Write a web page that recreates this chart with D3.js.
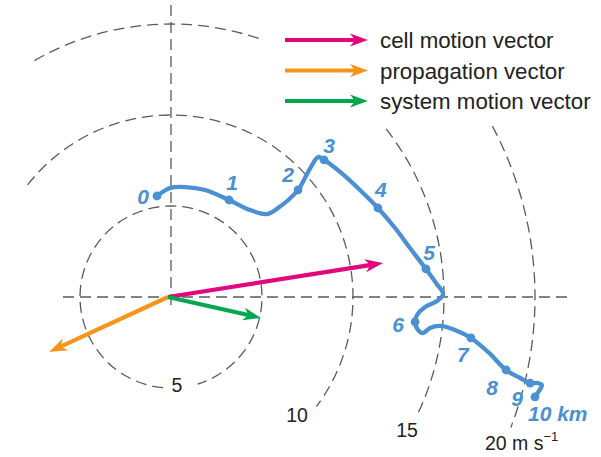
<!DOCTYPE html>
<html><head><meta charset="utf-8">
<script src="https://cdn.jsdelivr.net/npm/d3@7"></script>
<style>html,body{margin:0;padding:0;background:#fff}svg{display:block}</style>
</head><body>
<svg id="c" width="601" height="457"></svg>
<script>
// Hodograph (u, v in m/s)
const hodoU = [-0.77,-0.05,0.77,1.87,3.19,4.34,5.27,5.88,6.98,7.36,7.75,8.08,8.41,9.29,10.38,11.37,12.31,13.13,14.01,14.56,14.95,14.62,13.96,13.52,13.41,13.57,13.85,14.23,14.78,15.60,16.48,17.42,18.41,19.18,19.73,20.16,20.38,20.22,20.00];
const hodoV = [5.55,5.99,6.04,5.88,5.33,4.78,4.56,4.89,5.88,6.54,7.25,7.69,7.53,6.87,5.88,4.89,3.79,2.69,1.54,0.77,0.16,-0.22,-0.55,-0.99,-1.37,-1.81,-1.98,-1.70,-1.59,-1.81,-2.25,-3.02,-4.01,-4.45,-4.73,-4.73,-4.84,-5.16,-5.49];
// index in the hodograph of each height marker 0..10 km
const heightIdx = [0,4,8,12,15,18,24,30,32,34,38];
const heightLabels = ["0","1","2","3","4","5","6","7","8","9","10 km"];
// label offsets (px) from marker
const labelDx = [-14,3,-10,5,3,3,-17,-8,-14,-13,-7];
const labelDy = [8,-10,-8,-7,-11,-9,10,24,25,23,24];
// ring speeds and labels
const rings = [5,10,15,20];
const ringLabels = ["5","10","15","20 m s"];
// vectors (u, v m/s)
const vecNames = ["cell motion vector","propagation vector","system motion vector"];
const vecU = [11.65,-6.70,4.95];
const vecV = [1.87,-3.02,-1.15];
const vecColors = ["#e2067f","#f7941d","#00a650"];

const svg = d3.select("#c");
const ox = 171, oy = 297, pxPer = 18.2;
const x = d3.scaleLinear().domain([0,1]).range([ox, ox+pxPer]);
const y = d3.scaleLinear().domain([0,1]).range([oy, oy-pxPer]);
const r = d3.scaleLinear().domain([0,20]).range([0,20*pxPer]);

const gray = "#5a5a5a";
const dash = "11,6";

// axes
svg.append("line").attr("x1",ox).attr("x2",ox).attr("y1",5).attr("y2",310)
  .attr("stroke",gray).attr("stroke-width",1.3).attr("stroke-dasharray",dash);
svg.append("line").attr("x1",63).attr("x2",573).attr("y1",oy).attr("y2",oy)
  .attr("stroke",gray).attr("stroke-width",1.3).attr("stroke-dasharray",dash);

// ring arcs (bearing degrees, clockwise from north)
const arcs = [[5,185,523],[10,-52,127],[15,-30,19],[15,52,115],[20,62,111]];
const rad = d => (d-90)*Math.PI/180;
arcs.forEach(([s,a0,a1])=>{
  const p = d3.path();
  const rr = r(s);
  p.moveTo(ox+rr*Math.cos(rad(a0)), oy+rr*Math.sin(rad(a0)));
  p.arc(ox,oy,rr,rad(a0),rad(a1),false);
  svg.append("path").attr("d",p.toString()).attr("fill","none")
    .attr("stroke",gray).attr("stroke-width",1.3).attr("stroke-dasharray",dash);
});

// ring labels
const ringLabelPos = [[177,392],[297,422],[407,437],[485,450]];
rings.forEach((s,i)=>{
  const t = svg.append("text").attr("x",ringLabelPos[i][0]).attr("y",ringLabelPos[i][1])
    .attr("font-family","Liberation Sans, Arial, sans-serif").attr("font-size",19.5)
    .attr("fill","#222").attr("text-anchor", i===3?"start":"middle").text(ringLabels[i]);
  if(i===3) t.append("tspan").attr("dy",-9).attr("font-size",13).text("\u22121");
});

function arrow(g, x1,y1,x2,y2,color,w){
  const ang = Math.atan2(y2-y1,x2-x1);
  const L = 15, H = 6.5;
  const bx = x2 - L*Math.cos(ang), by = y2 - L*Math.sin(ang);
  g.append("line").attr("x1",x1).attr("y1",y1).attr("x2",bx+3*Math.cos(ang)).attr("y2",by+3*Math.sin(ang))
    .attr("stroke",color).attr("stroke-width",w);
  const px = -Math.sin(ang), py = Math.cos(ang);
  const back = 3;
  const pts = [[x2,y2],[bx-back*Math.cos(ang)+H*px, by-back*Math.sin(ang)+H*py],[bx+2*Math.cos(ang),by+2*Math.sin(ang)],[bx-back*Math.cos(ang)-H*px, by-back*Math.sin(ang)-H*py]];
  g.append("path").attr("d","M"+pts.map(p=>p.join(",")).join("L")+"Z").attr("fill",color);
}

// vectors
vecU.forEach((u,i)=>{
  arrow(svg, x(0)-3, y(0), x(u), y(vecV[i]), vecColors[i], 4.2);
});

// legend
vecNames.forEach((n,i)=>{
  const ly = 40 + i*30.5;
  arrow(svg, 285, ly, 368, ly, vecColors[i], 4.2);
  svg.append("text").attr("x",380).attr("y",ly+8)
    .attr("font-family","Liberation Sans, Arial, sans-serif").attr("font-size",22.3)
    .attr("fill","#222").text(n);
});

// hodograph
const blue = "#4a90d2";
const pts = hodoU.map((u,i)=>[x(u), y(hodoV[i])]);
svg.append("path").attr("d", d3.line().curve(d3.curveCatmullRom.alpha(0.5))(pts))
  .attr("fill","none").attr("stroke",blue).attr("stroke-width",4.3)
  .attr("stroke-linecap","round").attr("stroke-linejoin","round");
heightIdx.forEach((k,i)=>{
  svg.append("circle").attr("cx",pts[k][0]).attr("cy",pts[k][1]).attr("r",4.4).attr("fill",blue);
  svg.append("text").attr("x",pts[k][0]+labelDx[i]).attr("y",pts[k][1]+labelDy[i])
    .attr("font-family","Liberation Sans, Arial, sans-serif").attr("font-size",21)
    .attr("font-weight","bold").attr("font-style","italic")
    .attr("fill",blue).attr("text-anchor", i===10?"start":"middle").text(heightLabels[i]);
});
</script>
</body></html>
